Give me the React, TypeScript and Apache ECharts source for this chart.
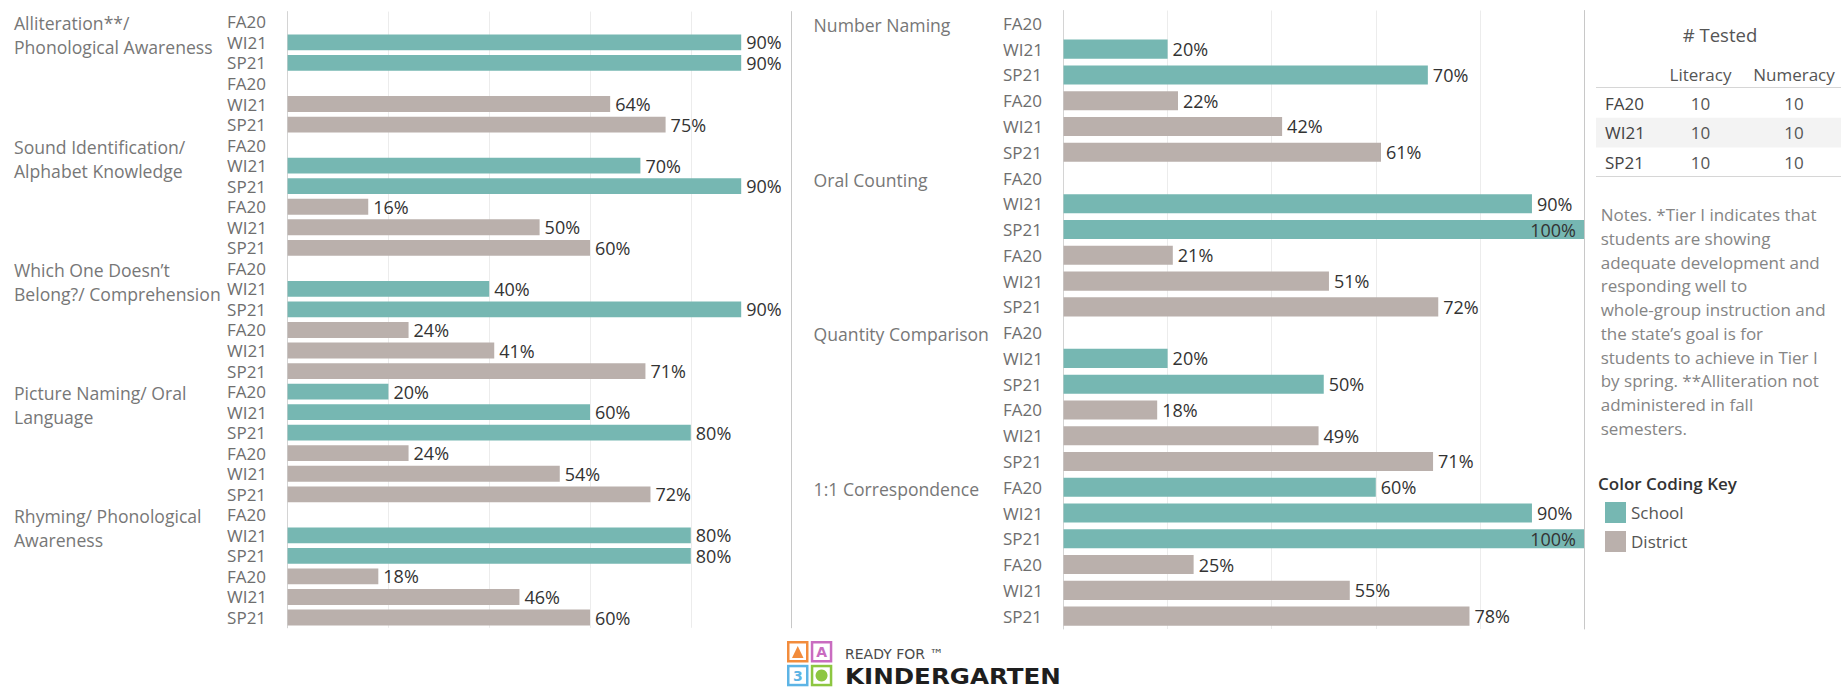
import React, { useEffect, useRef } from "react";
import * as echarts from "echarts";

const FONT = "'Open Sans', 'Noto Sans', sans-serif";
const SCHOOL_COLOR = "#76b7b2";
const DISTRICT_COLOR = "#bab0ac";

const periods = ["FA20", "WI21", "SP21"];

const literacyGroups = [
  ["Alliteration**/", "Phonological Awareness"],
  ["Sound Identification/", "Alphabet Knowledge"],
  ["Which One Doesn’t", "Belong?/ Comprehension"],
  ["Picture Naming/ Oral", "Language"],
  ["Rhyming/ Phonological", "Awareness"],
];
const literacySchool = [
  [null, 90, 90],
  [null, 70, 90],
  [null, 40, 90],
  [20, 60, 80],
  [null, 80, 80],
];
const literacyDistrict = [
  [null, 64, 75],
  [16, 50, 60],
  [24, 41, 71],
  [24, 54, 72],
  [18, 46, 60],
];

const numeracyGroups = [
  ["Number Naming"],
  ["Oral Counting"],
  ["Quantity Comparison"],
  ["1:1 Correspondence"],
];
const numeracySchool = [
  [null, 20, 70],
  [null, 90, 100],
  [null, 20, 50],
  [60, 90, 100],
];
const numeracyDistrict = [
  [22, 42, 61],
  [21, 51, 72],
  [18, 49, 71],
  [25, 55, 78],
];

const xMin = 0;
const xMax = 100;
const xInterval = 20;

const testedTitle = "# Tested";
const testedColumns = ["Literacy", "Numeracy"];
const testedPeriods = ["FA20", "WI21", "SP21"];
const testedLiteracy = [10, 10, 10];
const testedNumeracy = [10, 10, 10];

const notesLines = [
  "Notes. *Tier I indicates that",
  "students are showing",
  "adequate development and",
  "responding well to",
  "whole-group instruction and",
  "the state’s goal is for",
  "students to achieve in Tier I",
  "by spring. **Alliteration not",
  "administered in fall",
  "semesters.",
];

const legendTitle = "Color Coding Key";
const legendNames = ["School", "District"];

type Cell = number | null;

function buildPanel(prefix: string, groups: string[][], school: Cell[][], district: Cell[][]) {
  const cats: string[] = [];
  const schoolData: any[] = [];
  const districtData: any[] = [];
  const item = (v: Cell) =>
    v == null ? "-" : v >= 100 ? { value: v, label: { position: "insideRight", distance: 8 } } : v;
  groups.forEach((_, g) => {
    for (let p = 0; p < 3; p++) {
      cats.push(prefix + cats.length);
      schoolData.push(item(school[g][p]));
      districtData.push("-");
    }
    for (let p = 0; p < 3; p++) {
      cats.push(prefix + cats.length);
      schoolData.push("-");
      districtData.push(item(district[g][p]));
    }
  });
  return { cats, schoolData, districtData };
}

export default function App() {
  const ref = useRef<HTMLDivElement>(null);

  useEffect(() => {
    document.body.style.margin = "0";
    const chart = echarts.init(ref.current!, null, { renderer: "svg" });

    const left = buildPanel("L", literacyGroups, literacySchool, literacyDistrict);
    const right = buildPanel("R", numeracyGroups, numeracySchool, numeracyDistrict);

    const grids = [
      { left: 287.6, top: 11.6, width: 504, height: 616.2 },
      { left: 1063.5, top: 10.5, width: 520.5, height: 618.5 },
    ];

    const xAxes = grids.map((_, i) => ({
      type: "value",
      gridIndex: i,
      min: xMin,
      max: xMax,
      interval: xInterval,
      axisLabel: { show: false },
      axisLine: { show: false },
      axisTick: { show: false },
      splitLine: { show: true, lineStyle: { color: "#ececec", width: 1 } },
    }));

    const catAxis = (cats: string[], gridIndex: number) => [
      {
        type: "category",
        gridIndex,
        data: cats,
        inverse: true,
        axisLine: { show: true, lineStyle: { color: "#d4d4d4", width: 1 } },
        axisTick: { show: false },
        axisLabel: {
          interval: 0,
          align: "left",
          margin: 60.5,
          color: "#6e6e6e",
          fontSize: 17,
          fontFamily: FONT,
          formatter: (_v: string, i: number) => periods[i % 3],
        },
      },
      {
        type: "category",
        gridIndex,
        data: cats,
        inverse: true,
        position: "right",
        axisLine: { show: true, onZero: false, lineStyle: { color: "#c8c8c8", width: 1 } },
        axisTick: { show: false },
        axisLabel: { show: false },
      },
    ];

    const labelCfg = {
      show: true,
      position: "right",
      distance: 5,
      color: "#333333",
      fontSize: 18,
      fontFamily: FONT,
      formatter: (p: any) => p.value + "%",
    };

    const mkSeries = (name: string, data: any[], color: string, axisIdx: number, gap: string) => ({
      type: "bar",
      name,
      xAxisIndex: axisIdx,
      yAxisIndex: axisIdx * 2,
      data,
      barGap: "-100%",
      barCategoryGap: gap,
      itemStyle: { color },
      label: labelCfg,
      silent: true,
    });

    chart.setOption({
      animation: false,
      grid: grids,
      xAxis: xAxes,
      yAxis: [...catAxis(left.cats, 0), ...catAxis(right.cats, 1)],
      legend: {
        data: legendNames,
        orient: "vertical",
        left: 1600,
        top: 497,
        itemWidth: 21,
        itemHeight: 21,
        itemGap: 8,
        icon: "rect",
        selectedMode: false,
        textStyle: { fontSize: 17, color: "#555555", fontFamily: FONT },
      },
      series: [
        mkSeries("School", left.schoolData, SCHOOL_COLOR, 0, "23%"),
        mkSeries("District", left.districtData, DISTRICT_COLOR, 0, "23%"),
        mkSeries("School", right.schoolData, SCHOOL_COLOR, 1, "26%"),
        mkSeries("District", right.districtData, DISTRICT_COLOR, 1, "26%"),
      ],
    });

    const txt = (text: string, x: number, y: number, o: any = {}) => ({
      type: "text",
      x,
      y,
      silent: true,
      style: {
        text,
        fill: o.fill || "#555555",
        fontSize: o.fontSize || 17,
        fontFamily: o.fontFamily || FONT,
        fontWeight: o.fontWeight || "normal",
        textAlign: o.align || "left",
        textVerticalAlign: "middle",
      },
    });

    const graphics: any[] = [];

    // group labels placed from the category axes
    const addGroupLabels = (groups: string[][], cats: string[], yAxisIndex: number, x: number) => {
      groups.forEach((lines, g) => {
        const y = chart.convertToPixel({ yAxisIndex }, cats[g * 6]) as number;
        lines.forEach((line, k) => {
          graphics.push(txt(line, x, y + 1.5 + k * 24, { fill: "#777777", fontSize: 17.6 }));
        });
      });
    };
    addGroupLabels(literacyGroups, left.cats, 0, 14);
    addGroupLabels(numeracyGroups, right.cats, 2, 813.6);

    // tested table
    const tblLeft = 1596;
    const tblRight = 1841;
    const colX = [1700.5, 1794];
    const rowY0 = 103;
    const rowH = 29.7;
    graphics.push(txt(testedTitle, 1720, 34, { align: "center", fill: "#555555", fontSize: 18.5 }));
    testedColumns.forEach((c, i) => graphics.push(txt(c, colX[i], 74, { align: "center", fill: "#555555" })));
    graphics.push({
      type: "rect",
      silent: true,
      shape: { x: tblLeft, y: rowY0 + rowH - rowH / 2, width: tblRight - tblLeft, height: rowH },
      style: { fill: "#f3f3f3" },
    });
    graphics.push({
      type: "line",
      silent: true,
      shape: { x1: tblLeft, y1: 87.5, x2: tblRight, y2: 87.5 },
      style: { stroke: "#d6d6d6", lineWidth: 1 },
    });
    graphics.push({
      type: "line",
      silent: true,
      shape: { x1: tblLeft, y1: 176.5, x2: tblRight, y2: 176.5 },
      style: { stroke: "#d6d6d6", lineWidth: 1 },
    });
    testedPeriods.forEach((p, i) => {
      const y = rowY0 + i * rowH;
      graphics.push(txt(p, 1605, y, { fill: "#444444" }));
      graphics.push(txt(String(testedLiteracy[i]), colX[0], y, { align: "center", fill: "#555555" }));
      graphics.push(txt(String(testedNumeracy[i]), colX[1], y, { align: "center", fill: "#555555" }));
    });

    // notes
    notesLines.forEach((line, i) => {
      graphics.push(txt(line, 1600.7, 214.8 + i * 23.72, { fill: "#858585" }));
    });

    // legend title
    graphics.push(txt(legendTitle, 1598, 483, { fill: "#333333", fontWeight: 600 }));

    // logo
    const lx = 787;
    const ly = 641;
    const s = 21.5;
    const gp = 2.3;
    const boxes = [
      { x: lx, y: ly, c: "#f28c3c" },
      { x: lx + s + gp, y: ly, c: "#c96cc0" },
      { x: lx, y: ly + s + gp, c: "#5db4e5" },
      { x: lx + s + gp, y: ly + s + gp, c: "#8dc641" },
    ];
    boxes.forEach((b) => {
      graphics.push({ type: "rect", silent: true, shape: { x: b.x, y: b.y, width: s, height: s }, style: { fill: b.c } });
      graphics.push({
        type: "rect",
        silent: true,
        shape: { x: b.x + 2.5, y: b.y + 2.5, width: s - 5, height: s - 5 },
        style: { fill: "#ffffff" },
      });
    });
    graphics.push({
      type: "polygon",
      silent: true,
      shape: { points: [[lx + 5, ly + 17], [lx + s / 2, ly + 5], [lx + s - 5, ly + 17]] },
      style: { fill: "#f28c3c" },
    });
    graphics.push(
      txt("A", lx + s + gp + s / 2, ly + s / 2 + 0.5, { align: "center", fill: "#c96cc0", fontWeight: "bold", fontSize: 14, fontFamily: "'DejaVu Sans', sans-serif" })
    );
    graphics.push(
      txt("3", lx + s / 2, ly + s + gp + s / 2 + 0.5, { align: "center", fill: "#5db4e5", fontWeight: "bold", fontSize: 14, fontFamily: "'DejaVu Sans', sans-serif" })
    );
    graphics.push({
      type: "circle",
      silent: true,
      shape: { cx: lx + s + gp + s / 2, cy: ly + s + gp + s / 2, r: 6 },
      style: { fill: "#8dc641" },
    });
    graphics.push(txt("READY FOR ™", 845, 654, { fill: "#4a4a4a", fontSize: 14, fontFamily: "'DejaVu Sans', sans-serif" }));
    graphics.push({
      type: "text",
      x: 845,
      y: 677,
      scaleX: 1.17,
      silent: true,
      style: {
        text: "KINDERGARTEN",
        x: 0,
        y: 0,
        fill: "#1e1e1e",
        fontSize: 21,
        fontWeight: "bold",
        fontFamily: "'DejaVu Sans', sans-serif",
        textAlign: "left",
        textVerticalAlign: "middle",
      },
    });

    chart.setOption({ graphic: graphics });

    return () => chart.dispose();
  }, []);

  return <div ref={ref} style={{ width: 1841, height: 688, overflow: "hidden" }} />;
}
